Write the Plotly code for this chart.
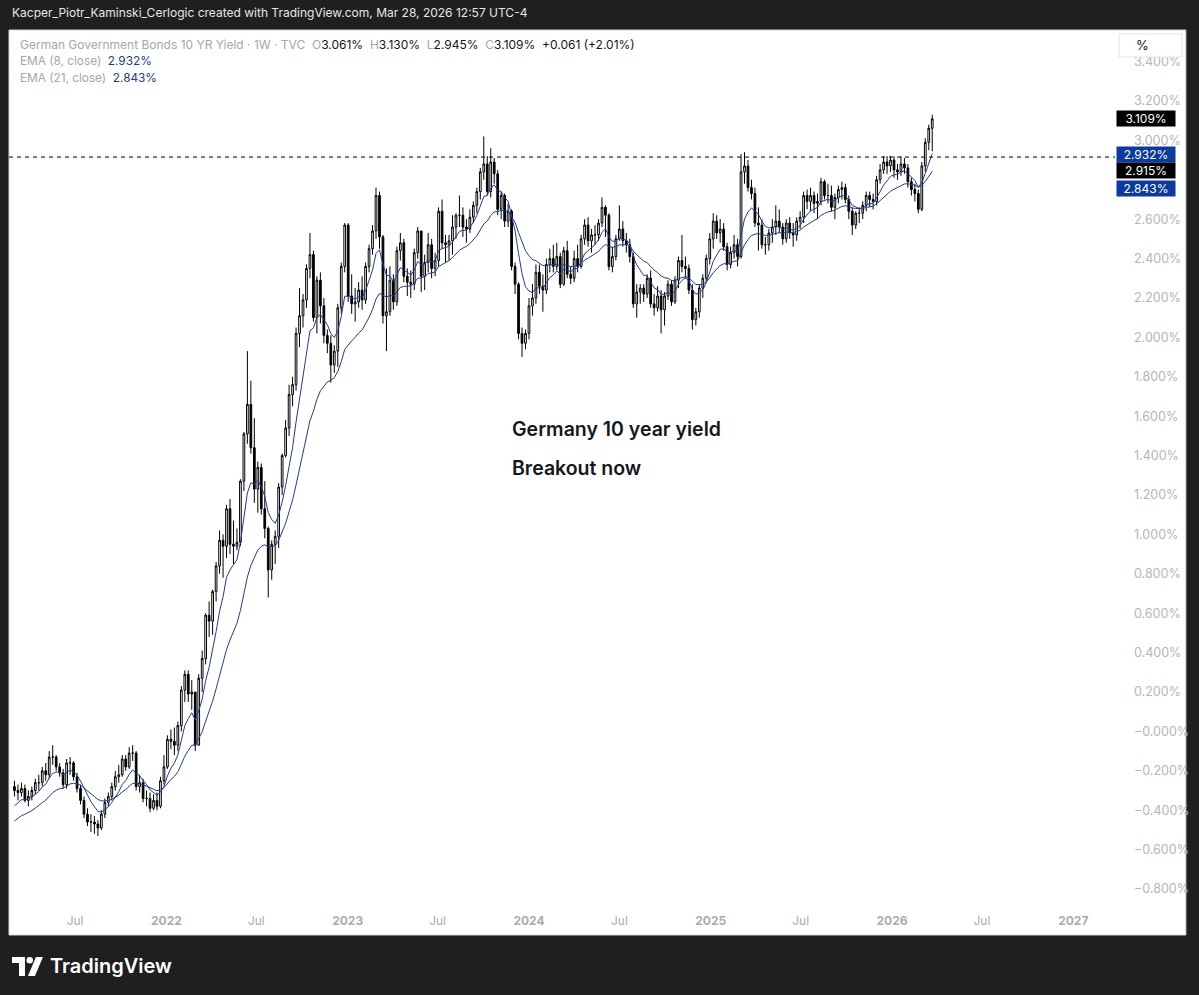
import pandas as pd
import plotly.graph_objects as go

# ---- weekly candles (German 10Y yield, %) ----
# first bar is the week of 2021-03-01, one bar per week
close_2021 = [-0.30, -0.31, -0.29, -0.35, -0.33, -0.30, -0.26, -0.26, -0.20, -0.22,
              -0.13, -0.13, -0.18, -0.21, -0.27, -0.16, -0.16, -0.23, -0.29, -0.35,
              -0.42, -0.46, -0.46, -0.47, -0.49, -0.42, -0.36, -0.33, -0.28, -0.23,
              -0.22, -0.14, -0.18, -0.11, -0.11, -0.28, -0.26, -0.34, -0.34, -0.39,
              -0.35, -0.38, -0.25, -0.18]
high_2021 = [-0.25, -0.27, -0.26, -0.27, -0.30, -0.28, -0.24, -0.22, -0.18, -0.16,
             -0.10, -0.07, -0.12, -0.16, -0.19, -0.14, -0.13, -0.15, -0.21, -0.27,
             -0.33, -0.39, -0.42, -0.43, -0.45, -0.40, -0.34, -0.31, -0.26, -0.20,
             -0.17, -0.12, -0.12, -0.08, -0.07, -0.10, -0.22, -0.24, -0.30, -0.31,
             -0.32, -0.31, -0.23, -0.12]
low_2021 = [-0.33, -0.35, -0.33, -0.36, -0.38, -0.35, -0.32, -0.30, -0.28, -0.25,
            -0.24, -0.17, -0.20, -0.23, -0.29, -0.29, -0.22, -0.25, -0.31, -0.37,
            -0.44, -0.48, -0.51, -0.52, -0.53, -0.50, -0.44, -0.38, -0.35, -0.30,
            -0.26, -0.23, -0.20, -0.19, -0.15, -0.30, -0.31, -0.36, -0.38, -0.41,
            -0.40, -0.40, -0.39, -0.27]

close_2022 = [-0.04, -0.05, -0.07, 0.03, 0.21, 0.29, 0.19, 0.20, -0.07, 0.27,
              0.37, 0.59, 0.56, 0.71, 0.84, 0.97, 0.94, 1.13, 0.95, 0.94,
              0.96, 1.27, 1.51, 1.66, 1.44, 1.23, 1.34, 1.13, 1.03, 0.82,
              0.95, 0.99, 1.24, 1.40, 1.54, 1.71, 1.76, 2.02, 2.11, 2.19,
              2.35, 2.42, 2.10, 2.29, 2.16, 2.01, 1.97, 1.86, 1.93, 2.15,
              2.36, 2.57]
high_2022 = [-0.02, 0.01, 0.02, 0.05, 0.23, 0.31, 0.31, 0.26, 0.20, 0.29,
             0.41, 0.60, 0.66, 0.72, 0.86, 1.02, 1.00, 1.15, 1.18, 1.07,
             1.03, 1.28, 1.52, 1.93, 1.78, 1.59, 1.37, 1.36, 1.27, 1.04,
             0.97, 1.02, 1.26, 1.41, 1.58, 1.76, 1.80, 2.05, 2.25, 2.22,
             2.37, 2.53, 2.44, 2.31, 2.33, 2.20, 2.04, 2.01, 1.96, 2.17,
             2.38, 2.58]
low_2022 = [-0.19, -0.09, -0.12, -0.10, 0.00, 0.15, 0.15, 0.11, -0.10, -0.07,
            0.20, 0.34, 0.48, 0.49, 0.66, 0.80, 0.78, 0.88, 0.90, 0.85,
            0.92, 0.94, 1.22, 1.46, 1.41, 1.16, 1.11, 1.10, 0.98, 0.68,
            0.77, 0.85, 0.93, 1.20, 1.39, 1.50, 1.65, 1.73, 1.95, 2.05,
            2.15, 2.30, 2.08, 2.02, 2.07, 1.97, 1.92, 1.77, 1.82, 1.85,
            2.12, 2.33]

close_2023 = [2.21, 2.17, 2.18, 2.24, 2.19, 2.36, 2.45, 2.54, 2.72, 2.51,
              2.11, 2.13, 2.29, 2.18, 2.44, 2.48, 2.31, 2.28, 2.27, 2.43,
              2.54, 2.31, 2.38, 2.47, 2.35, 2.39, 2.64, 2.48, 2.47, 2.49,
              2.56, 2.62, 2.62, 2.56, 2.55, 2.61, 2.67, 2.74, 2.84, 2.88,
              2.74, 2.89, 2.83, 2.65, 2.72, 2.59, 2.64, 2.36, 2.27, 2.02,
              1.97, 2.02]
high_2023 = [2.58, 2.32, 2.25, 2.28, 2.31, 2.38, 2.47, 2.57, 2.76, 2.74,
             2.52, 2.35, 2.36, 2.32, 2.46, 2.53, 2.50, 2.35, 2.34, 2.45,
             2.56, 2.54, 2.42, 2.53, 2.50, 2.43, 2.66, 2.70, 2.52, 2.52,
             2.62, 2.63, 2.72, 2.66, 2.60, 2.65, 2.69, 2.76, 2.86, 3.02,
             2.92, 2.96, 2.91, 2.85, 2.74, 2.73, 2.68, 2.65, 2.38, 2.28,
             2.05, 2.04]
low_2023 = [2.18, 2.12, 2.08, 2.15, 2.14, 2.17, 2.33, 2.42, 2.50, 2.45,
            2.07, 1.93, 2.11, 2.14, 2.16, 2.39, 2.28, 2.21, 2.20, 2.24,
            2.40, 2.23, 2.24, 2.33, 2.30, 2.31, 2.36, 2.45, 2.38, 2.39,
            2.42, 2.50, 2.56, 2.51, 2.48, 2.53, 2.58, 2.63, 2.70, 2.80,
            2.72, 2.71, 2.78, 2.62, 2.60, 2.56, 2.56, 2.34, 2.22, 1.99,
            1.90, 1.94]

close_2024 = [2.16, 2.20, 2.33, 2.26, 2.24, 2.37, 2.40, 2.36, 2.41, 2.27,
              2.44, 2.32, 2.30, 2.40, 2.36, 2.50, 2.57, 2.49, 2.52, 2.52,
              2.58, 2.66, 2.62, 2.36, 2.41, 2.50, 2.55, 2.49, 2.47, 2.41,
              2.17, 2.23, 2.25, 2.22, 2.30, 2.17, 2.15, 2.21, 2.14, 2.21,
              2.27, 2.18, 2.29, 2.39, 2.36, 2.35, 2.24, 2.09, 2.13, 2.25,
              2.30, 2.40, 2.50]
high_2024 = [2.20, 2.27, 2.37, 2.37, 2.32, 2.40, 2.45, 2.47, 2.48, 2.43,
             2.46, 2.49, 2.36, 2.44, 2.47, 2.52, 2.60, 2.61, 2.55, 2.57,
             2.60, 2.71, 2.67, 2.63, 2.46, 2.52, 2.67, 2.59, 2.53, 2.50,
             2.43, 2.27, 2.27, 2.27, 2.32, 2.34, 2.22, 2.26, 2.24, 2.23,
             2.29, 2.29, 2.31, 2.41, 2.52, 2.41, 2.37, 2.27, 2.15, 2.27,
             2.32, 2.42, 2.53]
low_2024 = [1.99, 2.11, 2.17, 2.22, 2.13, 2.22, 2.33, 2.33, 2.34, 2.25,
            2.26, 2.30, 2.27, 2.28, 2.33, 2.35, 2.47, 2.46, 2.43, 2.47,
            2.49, 2.56, 2.51, 2.34, 2.33, 2.39, 2.49, 2.46, 2.43, 2.38,
            2.15, 2.10, 2.17, 2.18, 2.20, 2.15, 2.11, 2.13, 2.02, 2.06,
            2.19, 2.16, 2.17, 2.25, 2.33, 2.30, 2.22, 2.04, 2.06, 2.10,
            2.20, 2.28, 2.37]

close_2025 = [2.59, 2.53, 2.55, 2.46, 2.37, 2.43, 2.47, 2.41, 2.84, 2.87,
              2.76, 2.73, 2.58, 2.57, 2.47, 2.47, 2.53, 2.56, 2.59, 2.56,
              2.50, 2.58, 2.53, 2.52, 2.59, 2.61, 2.72, 2.69, 2.72, 2.68,
              2.69, 2.79, 2.72, 2.72, 2.66, 2.71, 2.75, 2.76, 2.70, 2.64,
              2.57, 2.63, 2.63, 2.67, 2.72, 2.70, 2.69, 2.80, 2.85, 2.89,
              2.87, 2.90]
high_2025 = [2.63, 2.62, 2.60, 2.58, 2.48, 2.46, 2.52, 2.50, 2.93, 2.94,
             2.90, 2.80, 2.76, 2.66, 2.60, 2.51, 2.55, 2.60, 2.67, 2.65,
             2.58, 2.60, 2.61, 2.58, 2.61, 2.64, 2.74, 2.75, 2.76, 2.74,
             2.73, 2.81, 2.80, 2.78, 2.77, 2.73, 2.77, 2.79, 2.78, 2.72,
             2.66, 2.64, 2.66, 2.69, 2.74, 2.74, 2.73, 2.82, 2.88, 2.92,
             2.92, 2.92]
low_2025 = [2.45, 2.50, 2.48, 2.44, 2.34, 2.35, 2.40, 2.36, 2.40, 2.78,
            2.74, 2.70, 2.56, 2.44, 2.45, 2.42, 2.44, 2.48, 2.52, 2.53,
            2.47, 2.48, 2.50, 2.46, 2.49, 2.55, 2.58, 2.65, 2.64, 2.63,
            2.60, 2.67, 2.70, 2.68, 2.64, 2.60, 2.68, 2.70, 2.68, 2.60,
            2.52, 2.55, 2.58, 2.60, 2.64, 2.66, 2.65, 2.67, 2.78, 2.83,
            2.83, 2.84]

close_2026 = [2.85, 2.84, 2.88, 2.86, 2.79, 2.75, 2.73, 2.65, 2.87, 2.99, 3.061, 3.109]
high_2026 = [2.92, 2.88, 2.92, 2.91, 2.88, 2.81, 2.78, 2.75, 2.89, 3.01, 3.08, 3.130]
low_2026 = [2.81, 2.80, 2.82, 2.83, 2.76, 2.72, 2.69, 2.63, 2.64, 2.84, 2.95, 2.945]

first_open = -0.28
ema8_start = -0.40    # where the EMA lines enter at the left edge
ema21_start = -0.47
price_line = 2.915

y_tick_values = [-0.8, -0.6, -0.4, -0.2, 0.0, 0.2, 0.4, 0.6, 0.8, 1.0, 1.2, 1.4,
                 1.6, 1.8, 2.0, 2.2, 2.4, 2.6, 2.8, 3.0, 3.2, 3.4]
# 2.800% sits under the last-value labels, so it is not shown
y_tick_labels = ["\u22120.800%", "\u22120.600%", "\u22120.400%", "\u22120.200%", "\u22120.000%",
                 "0.200%", "0.400%", "0.600%", "0.800%", "1.000%", "1.200%", "1.400%",
                 "1.600%", "1.800%", "2.000%", "2.200%", "2.400%", "2.600%", "",
                 "3.000%", "3.200%", "3.400%"]
x_tick_dates = ["2021-07-01", "2022-01-01", "2022-07-01", "2023-01-01", "2023-07-01",
                "2024-01-01", "2024-07-01", "2025-01-01", "2025-07-01", "2026-01-01",
                "2026-07-01", "2027-01-01"]
x_tick_labels = ["Jul", "<b>2022</b>", "Jul", "<b>2023</b>", "Jul", "<b>2024</b>", "Jul",
                 "<b>2025</b>", "Jul", "<b>2026</b>", "Jul", "<b>2027</b>"]

closes = close_2021 + close_2022 + close_2023 + close_2024 + close_2025 + close_2026
highs = high_2021 + high_2022 + high_2023 + high_2024 + high_2025 + high_2026
lows = low_2021 + low_2022 + low_2023 + low_2024 + low_2025 + low_2026
opens = [first_open] + closes[:-1]
dates = pd.date_range("2021-03-01", periods=len(closes), freq="7D")


def ema(values, n, start):
    a = 2.0 / (n + 1)
    out = []
    e = start
    for v in values:
        e = e + a * (v - e)
        out.append(e)
    return out


ema8 = ema(closes, 8, ema8_start)
ema21 = ema(closes, 21, ema21_start)

# ---- page geometry (pixels) ----
W, H = 1199, 995
PL, PR, PT, PB = 9, 1117, 30, 906


def px(x):
    return (x - PL) / (PR - PL)


def py(y):
    return (PB - y) / (PB - PT)


FONT = "Inter, Roboto, sans-serif"
GRAY = "#a3a6af"
BLUE = "#0c3a9e"

fig = go.Figure()

fig.add_trace(go.Candlestick(
    x=dates, open=opens, high=highs, low=lows, close=closes,
    increasing=dict(line=dict(color="#000000", width=1), fillcolor="#ffffff"),
    decreasing=dict(line=dict(color="#000000", width=1), fillcolor="#000000"),
    whiskerwidth=0, showlegend=False, hoverinfo="skip",
))
fig.add_trace(go.Scatter(x=dates, y=ema21, mode="lines",
                         line=dict(color="#1f3b96", width=1), showlegend=False, hoverinfo="skip"))
fig.add_trace(go.Scatter(x=dates, y=ema8, mode="lines",
                         line=dict(color="#1f3b96", width=1), showlegend=False, hoverinfo="skip"))

shapes = [
    # white chart panel including the scales
    dict(type="rect", xref="paper", yref="paper", x0=px(9), x1=px(1188), y0=py(30), y1=py(935),
         fillcolor="#ffffff", line=dict(color="#d6d6d6", width=1), layer="below"),
    # price line
    dict(type="line", xref="paper", yref="y", x0=0, x1=1, y0=price_line, y1=price_line,
         line=dict(color="#000000", width=1, dash="4px,4px")),
    # % box
    dict(type="rect", xref="paper", yref="paper", x0=px(1121), x1=px(1184), y0=py(34), y1=py(57),
         fillcolor="#ffffff", line=dict(color="#e3e5ea", width=1)),
]


# TradingView logo glyph
def pth(points):
    return "M" + " L".join(f"{px(a):.5f},{py(b):.5f}" for a, b in points) + " Z"


shapes.append(dict(type="path", xref="paper", yref="paper",
                   path=pth([(12, 957), (25, 957), (25, 976), (19, 976), (19, 963), (12, 963)]),
                   fillcolor="#ffffff", line=dict(width=0)))
shapes.append(dict(type="circle", xref="paper", yref="paper",
                   x0=px(26.5), x1=px(33), y0=py(957), y1=py(963.5),
                   fillcolor="#ffffff", line=dict(width=0)))
shapes.append(dict(type="path", xref="paper", yref="paper",
                   path=pth([(36, 957), (43, 957), (35, 976), (28, 976)]),
                   fillcolor="#ffffff", line=dict(width=0)))

annotations = []


def txt(x, y, text, size=12, color="#131722", anchor="left", weight=None):
    f = dict(family=FONT, size=size, color=color)
    if weight:
        f["weight"] = weight
    annotations.append(dict(xref="paper", yref="paper", x=px(x), y=py(y), text=text,
                            showarrow=False, xanchor=anchor, yanchor="middle", font=f))


sp = "\u00a0"
g = lambda s: f'<span style="color:{GRAY}">{s}</span>'
b = lambda s: f'<span style="color:#1e3a8a">{s}</span>'

txt(10, 13, "Kacper_Piotr_Kaminski_Cerlogic created with TradingView.com, Mar 28, 2026 12:57 UTC-4",
    size=12, color="#e6e6e6")
txt(18, 45, g("German Government Bonds 10 YR Yield · 1W · TVC") + sp * 2
    + g("O") + "3.061%" + sp * 2 + g("H") + "3.130%" + sp * 2 + g("L") + "2.945%" + sp * 2
    + g("C") + "3.109%" + sp * 2 + "+0.061 (+2.01%)", size=12)
txt(18, 61, g("EMA (8, close)") + sp * 2 + b("2.932%"), size=11.8)
txt(18, 78, g("EMA (21, close)") + sp * 2 + b("2.843%"), size=11.8)
txt(1136, 45, "%", size=13)

# last-value labels on the price scale
for yy, label, bg in [(118.5, "3.109%", "#000000"), (154, "2.932%", BLUE),
                      (171, "2.915%", "#000000"), (188, "2.843%", BLUE)]:
    annotations.append(dict(xref="paper", yref="paper", x=px(1118), y=py(yy), text=label,
                            showarrow=False, xanchor="left", yanchor="middle",
                            width=54, height=11, bgcolor=bg, borderpad=2, align="center",
                            font=dict(family=FONT, size=12, color="#ffffff")))

txt(511, 429, "Germany 10 year yield", size=19.5, weight=600)
txt(511, 468, "Breakout now", size=19.5, weight=600)
txt(48, 966, "TradingView", size=20, color="#ffffff", weight=600)

fig.update_layout(
    width=W, height=H,
    margin=dict(l=PL, r=W - PR, t=PT, b=H - PB),
    paper_bgcolor="#1f1f1f",
    plot_bgcolor="#ffffff",
    shapes=shapes,
    annotations=annotations,
    showlegend=False,
    font=dict(family=FONT),
)
fig.update_xaxes(
    type="date", range=["2021-02-18", "2027-03-26"],
    rangeslider=dict(visible=False),
    tickvals=x_tick_dates, ticktext=x_tick_labels,
    tickfont=dict(family=FONT, size=12, color="#a9acb4"),
    showgrid=False, zeroline=False, showline=False, ticks="",
    ticklabelstandoff=6,
)
fig.update_yaxes(
    side="right", range=[-0.886, 3.560],
    tickvals=y_tick_values, ticktext=y_tick_labels,
    tickfont=dict(family=FONT, size=12.5, color="#b2b5be"),
    showgrid=False, zeroline=False, showline=False, ticks="",
    ticklabelstandoff=18,
)

# drop the browser's default 8px body margin so the page lines up with the window
fig.write_html("out.html", config={"displayModeBar": False},
               post_script="document.body.style.margin='0';")
